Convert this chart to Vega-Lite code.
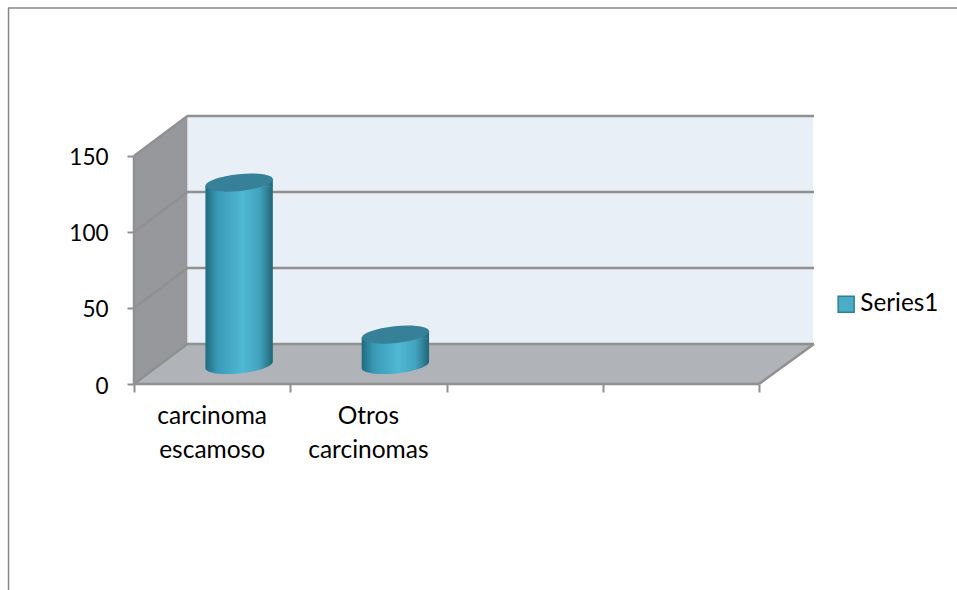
{
  "$schema": "https://vega.github.io/schema/vega-lite/v6.json",
  "width": 680,
  "height": 268,
  "autosize": {"type": "none"},
  "padding": {"left": 134, "top": 116, "right": 143, "bottom": 206},
  "background": "white",
  "view": {"stroke": null},
  "config": {"font": "Lato"},
  "datasets": {
    "frame": [{"name": "plot frame"}],
    "cases": [
      {"category": "carcinoma escamoso", "value": 120, "series": "Series1"},
      {"category": "Otros carcinomas", "value": 20, "series": "Series1"}
    ],
    "sideWall": [
      {"x": 0, "top": 150, "bottom": 0},
      {"x": 0.342, "top": 176.3, "bottom": 26.3}
    ],
    "floor": [
      {"level": 0, "front": 0, "back": 4},
      {"level": 26.3, "front": 0.342, "back": 4.352}
    ],
    "frameLines": [
      {"edge": "g0", "x": 0, "y": 0}, {"edge": "g0", "x": 0.342, "y": 26.3}, {"edge": "g0", "x": 4.352, "y": 26.3},
      {"edge": "g50", "x": 0, "y": 50}, {"edge": "g50", "x": 0.342, "y": 76.3}, {"edge": "g50", "x": 4.352, "y": 76.3},
      {"edge": "g100", "x": 0, "y": 100}, {"edge": "g100", "x": 0.342, "y": 126.3}, {"edge": "g100", "x": 4.352, "y": 126.3},
      {"edge": "g150", "x": 0, "y": 150}, {"edge": "g150", "x": 0.342, "y": 176.3}, {"edge": "g150", "x": 4.352, "y": 176.3},
      {"edge": "floorRight", "x": 4, "y": 0}, {"edge": "floorRight", "x": 4.352, "y": 26.3},
      {"edge": "axisFront", "x": 0, "y": 0}, {"edge": "axisFront", "x": 4, "y": 0},
      {"edge": "axisLeft", "x": 0, "y": 0}, {"edge": "axisLeft", "x": 0, "y": 150}
    ]
  },
  "layer": [
    {
      "description": "Back wall",
      "data": {"name": "frame"},
      "mark": {"type": "rect", "color": "#e8eff6", "xOffset": 54, "x2Offset": 54, "yOffset": -40, "y2Offset": -40},
      "encoding": {
        "x": {
          "datum": 0,
          "type": "quantitative",
          "title": null,
          "scale": {"domain": [0, 4.352], "nice": false, "zero": false, "padding": 0},
          "axis": {"title": null, "values": [0, 1, 2, 3, 4], "labels": false, "domain": false, "grid": false, "tickColor": "#8f8f8f", "tickWidth": 2, "tickSize": 8}
        },
        "x2": {"datum": 4},
        "y": {
          "datum": 150,
          "type": "quantitative",
          "title": null,
          "scale": {"domain": [0, 176.3], "nice": false, "zero": false, "padding": 0},
          "axis": {"title": null, "values": [0, 50, 100, 150], "domain": false, "grid": false, "tickColor": "#8f8f8f", "tickWidth": 2, "tickSize": 7, "labelPadding": 19, "labelOffset": 2, "labelFont": "Lato", "labelFontSize": 22.5, "labelColor": "#000000", "format": "d"}
        },
        "y2": {"datum": 0}
      }
    },
    {
      "description": "Left side wall",
      "data": {"name": "sideWall"},
      "mark": {"type": "area", "color": "#96989b"},
      "encoding": {
        "x": {"field": "x", "type": "quantitative", "title": null},
        "y": {"field": "top", "type": "quantitative", "title": null},
        "y2": {"field": "bottom"}
      }
    },
    {
      "description": "Floor",
      "data": {"name": "floor"},
      "mark": {"type": "area", "orient": "horizontal", "color": "#b0b4b8"},
      "encoding": {
        "y": {"field": "level", "type": "quantitative", "title": null},
        "x": {"field": "front", "type": "quantitative", "title": null},
        "x2": {"field": "back"}
      }
    },
    {
      "description": "Gridlines and frame edges",
      "data": {"name": "frameLines"},
      "mark": {"type": "line", "color": "#909090", "strokeWidth": 2.5},
      "encoding": {
        "x": {"field": "x", "type": "quantitative", "title": null},
        "y": {"field": "y", "type": "quantitative", "title": null},
        "detail": {"field": "edge"}
      }
    },
    {
      "description": "Outer chart border, top",
      "data": {"name": "frame"},
      "mark": {"type": "rule", "color": "#868686", "strokeWidth": 1.5},
      "encoding": {
        "x": {"datum": -0.806, "type": "quantitative", "title": null},
        "x2": {"datum": 5.27},
        "y": {"datum": 247.4, "type": "quantitative", "title": null}
      }
    },
    {
      "description": "Outer chart border, left",
      "data": {"name": "frame"},
      "mark": {"type": "rule", "color": "#868686", "strokeWidth": 1.5},
      "encoding": {
        "x": {"datum": -0.803, "type": "quantitative", "title": null},
        "y": {"datum": 247.4, "type": "quantitative", "title": null},
        "y2": {"datum": -136}
      }
    },
    {
      "description": "Series swatch source, sits behind the cylinder body",
      "data": {"name": "cases"},
      "transform": [{"calculate": "indexof(['carcinoma escamoso','Otros carcinomas'],datum.category)+0.5", "as": "center"}],
      "mark": {"type": "point", "filled": true, "shape": "square", "size": 100, "xOffset": 27, "yOffset": -19, "opacity": 1},
      "encoding": {
        "x": {"field": "center", "type": "quantitative", "title": null},
        "y": {"datum": 0, "type": "quantitative", "title": null},
        "color": {
          "field": "series",
          "type": "nominal",
          "scale": {"range": ["#4bacc6"]},
          "legend": {
            "title": null,
            "orient": "none",
            "legendX": 700,
            "legendY": 176,
            "symbolType": "square",
            "symbolSize": 256,
            "symbolStrokeColor": "#2f7f95",
            "symbolStrokeWidth": 1.5,
            "symbolOpacity": 1,
            "labelFont": "Lato",
            "labelFontSize": 24.3,
            "labelColor": "#000000",
            "labelOffset": 2
          }
        }
      }
    },
    {
      "description": "Cylinder body",
      "data": {"name": "cases"},
      "transform": [{"calculate": "indexof(['carcinoma escamoso','Otros carcinomas'],datum.category)+0.5", "as": "center"}],
      "mark": {
        "type": "bar",
        "width": 67.4,
        "xOffset": 27,
        "yOffset": -15.3,
        "y2Offset": -22.7,
        "color": {"x1": 0, "x2": 1, "y1": 0, "y2": 0, "gradient": "linear", "stops": [
          {"offset": 0, "color": "#1f6b80"},
          {"offset": 0.18, "color": "#3a9ab6"},
          {"offset": 0.55, "color": "#4fb8d3"},
          {"offset": 0.8, "color": "#43a3be"},
          {"offset": 1, "color": "#1f6678"}
        ]}
      },
      "encoding": {
        "x": {"field": "center", "type": "quantitative", "title": null},
        "y": {"field": "value", "type": "quantitative", "title": null},
        "y2": {"datum": 0}
      }
    },
    {
      "description": "Upper shoulder of the cylinder, follows the tilted cap",
      "data": {"name": "cases"},
      "transform": [{"calculate": "indexof(['carcinoma escamoso','Otros carcinomas'],datum.category)+0.5", "as": "center"}],
      "mark": {
        "type": "point",
        "filled": true,
        "opacity": 1,
        "size": 4543,
        "xOffset": 27,
        "yOffset": -19,
        "shape": "M-1,0.1045L1,-0.1045L1,0.125L-1,0.125Z",
        "color": {"x1": 0, "x2": 1, "y1": 0, "y2": 0, "gradient": "linear", "stops": [
          {"offset": 0, "color": "#1f6b80"},
          {"offset": 0.18, "color": "#3a9ab6"},
          {"offset": 0.55, "color": "#4fb8d3"},
          {"offset": 0.8, "color": "#43a3be"},
          {"offset": 1, "color": "#1f6678"}
        ]}
      },
      "encoding": {
        "x": {"field": "center", "type": "quantitative", "title": null},
        "y": {"field": "value", "type": "quantitative", "title": null}
      }
    },
    {
      "description": "Rounded foot of the cylinder",
      "data": {"name": "cases"},
      "transform": [{"calculate": "indexof(['carcinoma escamoso','Otros carcinomas'],datum.category)+0.5", "as": "center"}],
      "mark": {
        "type": "point",
        "filled": true,
        "opacity": 1,
        "size": 4543,
        "xOffset": 27,
        "yOffset": -19,
        "shape": "M-1,-0.125L-1,0.1045A1.005,0.25,-5.97,0,0,1,-0.1045L1,-0.125Z",
        "color": {"x1": 0, "x2": 1, "y1": 0, "y2": 0, "gradient": "linear", "stops": [
          {"offset": 0, "color": "#1f6b80"},
          {"offset": 0.18, "color": "#3a9ab6"},
          {"offset": 0.55, "color": "#4fb8d3"},
          {"offset": 0.8, "color": "#43a3be"},
          {"offset": 1, "color": "#1f6678"}
        ]}
      },
      "encoding": {
        "x": {"field": "center", "type": "quantitative", "title": null},
        "y": {"datum": 0, "type": "quantitative", "title": null}
      }
    },
    {
      "description": "Cylinder top cap",
      "data": {"name": "cases"},
      "transform": [{"calculate": "indexof(['carcinoma escamoso','Otros carcinomas'],datum.category)+0.5", "as": "center"}],
      "mark": {
        "type": "point",
        "filled": true,
        "opacity": 1,
        "size": 4543,
        "xOffset": 27,
        "yOffset": -19,
        "shape": "M-1,0.1045A1.005,0.25,-5.97,1,1,1,-0.1045A1.005,0.25,-5.97,1,1,-1,0.1045Z",
        "color": "#368197"
      },
      "encoding": {
        "x": {"field": "center", "type": "quantitative", "title": null},
        "y": {"field": "value", "type": "quantitative", "title": null}
      }
    },
    {
      "description": "Category labels under the axis",
      "data": {"name": "cases"},
      "transform": [{"calculate": "indexof(['carcinoma escamoso','Otros carcinomas'],datum.category)+0.5", "as": "center"}],
      "mark": {"type": "text", "font": "Lato", "fontSize": 24.5, "color": "#000000", "lineBreak": " ", "lineHeight": 33.5, "baseline": "middle", "align": "center", "dy": 33},
      "encoding": {
        "x": {"field": "center", "type": "quantitative", "title": null},
        "y": {"datum": 0, "type": "quantitative", "title": null},
        "text": {"field": "category"}
      }
    }
  ]
}
